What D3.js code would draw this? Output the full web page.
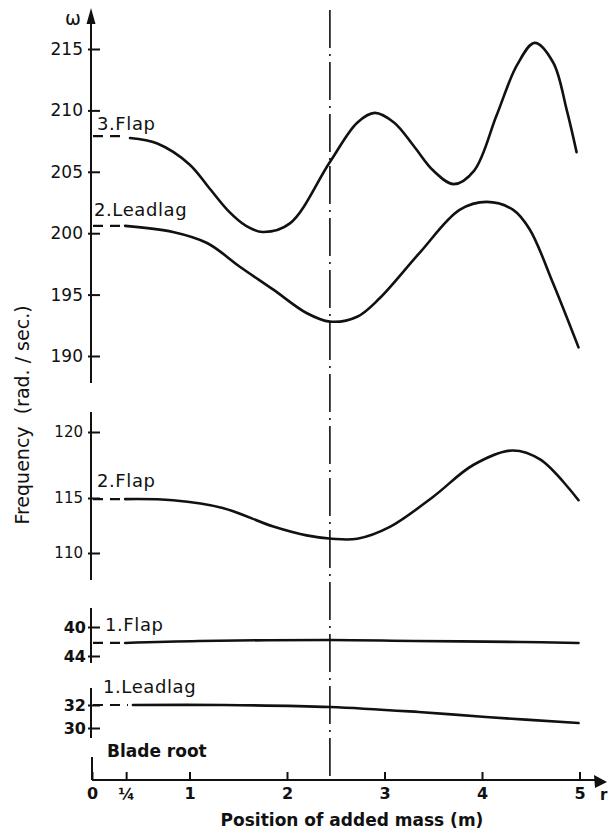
<!DOCTYPE html>
<html>
<head>
<meta charset="utf-8">
<script src="https://cdn.jsdelivr.net/npm/d3@7"></script>
<style>
  body { margin: 0; background: #fff; }
  text { font-family: "DejaVu Sans", sans-serif; fill: #111; }
</style>
</head>
<body>
<div id="chart"></div>
<script>
// ---- data ----
const xTicks = [0, 0.35, 1, 2, 3, 4, 5];
const xTickLabels = ["0", "\u00bc", "1", "2", "3", "4", "5"];
const markPos = 2.44; // dash-dot marker position (m)

const topTicks = [190, 195, 200, 205, 210, 215];
const midTicks = [110, 115, 120];
const flap1Ticks = [40, 44];
const lead1Ticks = [32, 30];

// 3. Flap
const flap3Start = 207.9;
const flap3X = [0.39, 0.67, 1.0, 1.2, 1.4, 1.58, 1.75, 2.03, 2.44, 2.72, 2.9, 3.1, 3.3, 3.5, 3.71, 3.92, 4.15, 4.36, 4.54, 4.73, 4.87, 4.97];
const flap3Y = [207.75, 207.3, 205.6, 203.7, 201.8, 200.6, 200.1, 200.8, 205.8, 209.0, 209.8, 209.0, 207.1, 205.1, 204.0, 205.1, 209.6, 213.7, 215.5, 213.9, 210.0, 206.6];

// 2. Leadlag
const lead2Start = 200.6;
const lead2X = [0.34, 0.83, 1.18, 1.52, 1.86, 2.2, 2.44, 2.72, 2.95, 3.36, 3.77, 4.05, 4.32, 4.49, 4.73, 4.99];
const lead2Y = [200.6, 200.1, 199.2, 197.25, 195.4, 193.5, 192.8, 193.2, 194.7, 198.4, 201.9, 202.55, 201.9, 200.3, 195.9, 190.7];

// 2. Flap
const flap2Start = 114.9;
const flap2X = [0.34, 0.83, 1.34, 1.86, 2.2, 2.46, 2.72, 3.06, 3.5, 3.91, 4.31, 4.6, 4.99];
const flap2Y = [114.9, 114.8, 114.1, 112.4, 111.6, 111.3, 111.3, 112.4, 115.1, 117.5, 118.6, 117.9, 114.8];

// 1. Flap
const flap1Start = 42.2;
const flap1X = [0.34, 1.1, 2.44, 3.3, 4.4, 4.99];
const flap1Y = [42.2, 41.93, 41.79, 41.93, 42.07, 42.2];

// 1. Leadlag
const lead1Start = 32.0;
const lead1X = [0.42, 1.35, 2.44, 3.35, 4.04, 4.99];
const lead1Y = [32.0, 32.0, 31.83, 31.39, 30.96, 30.43];

// ---- layout ----
const width = 610, height = 833;
const axisX = 91;

const svg = d3.select("#chart").append("svg")
  .attr("width", width)
  .attr("height", height);

const x = d3.scaleLinear().domain([0, 5]).range([92, 579.5]);

// one y scale per broken-axis panel
const yTop = d3.scaleLinear().domain([190, 215]).range([356, 49]);
const yMid = d3.scaleLinear().domain([110, 115, 120]).range([553, 498, 432]);
const yFlap1 = d3.scaleLinear().domain([40, 44]).range([627, 656]);
const yLead1 = d3.scaleLinear().domain([30, 32]).range([728, 705]);

const panels = [
  { scale: yTop, ticks: topTicks, size: 17, weight: "normal", pad: 8, y0: 16, y1: 383 },
  { scale: yMid, ticks: midTicks, size: 15, weight: "normal", pad: 8, y0: 412, y1: 580 },
  { scale: yFlap1, ticks: flap1Ticks, size: 16, weight: "bold", pad: 5, y0: 608, y1: 663 },
  { scale: yLead1, ticks: lead1Ticks, size: 16, weight: "bold", pad: 5, y0: 688, y1: 738 }
];

// axis segments + ticks
panels.forEach(p => {
  svg.append("line")
    .attr("x1", axisX).attr("x2", axisX)
    .attr("y1", p.y0).attr("y2", p.y1)
    .attr("stroke", "#111").attr("stroke-width", 2);

  const g = svg.append("g")
    .attr("transform", `translate(${axisX},0)`)
    .call(d3.axisLeft(p.scale).tickValues(p.ticks).tickFormat(d3.format("d"))
      .tickSizeInner(-9).tickSizeOuter(0).tickPadding(p.pad));
  g.select(".domain").remove();
  g.selectAll(".tick line").attr("x1", -3).attr("stroke", "#111").attr("stroke-width", 2);
  g.selectAll(".tick text")
    .attr("font-family", "DejaVu Sans, sans-serif")
    .attr("font-size", p.size)
    .attr("font-weight", p.weight)
    .attr("fill", "#111");
});

// y arrow + omega
svg.append("path")
  .attr("d", `M${axisX},8 L${axisX - 4.5},24 L${axisX + 4.5},24 Z`)
  .attr("fill", "#111");
svg.append("text")
  .attr("x", 73).attr("y", 25)
  .attr("text-anchor", "middle")
  .attr("font-size", 19)
  .text("\u03c9");

// y title
svg.append("text")
  .attr("transform", "translate(29,415) rotate(-90)")
  .attr("text-anchor", "middle")
  .attr("font-size", 19)
  .style("white-space", "pre")
  .text("Frequency  (rad. / sec.)");

// x axis
const xAxisY = 780;
const gx = svg.append("g")
  .attr("transform", `translate(0,${xAxisY})`)
  .call(d3.axisBottom(x).tickValues(xTicks).tickFormat((d, i) => xTickLabels[i])
    .tickSizeInner(-8).tickSizeOuter(0).tickPadding(8));
gx.select(".domain").remove();
gx.selectAll(".tick line").attr("stroke", "#111").attr("stroke-width", 2);
gx.selectAll(".tick text")
  .attr("font-family", "DejaVu Sans, sans-serif")
  .attr("font-size", 16)
  .attr("font-weight", "bold")
  .attr("fill", "#111");

svg.append("line")
  .attr("x1", x(0)).attr("x2", 597)
  .attr("y1", xAxisY).attr("y2", xAxisY)
  .attr("stroke", "#111").attr("stroke-width", 2);
svg.append("line") // blade root bracket
  .attr("x1", x(0)).attr("x2", x(0))
  .attr("y1", 757).attr("y2", xAxisY)
  .attr("stroke", "#111").attr("stroke-width", 2);
svg.append("path")
  .attr("d", `M607,782 L594,775 L595,788 Z`)
  .attr("fill", "#111");
svg.append("text")
  .attr("x", 600).attr("y", 800)
  .attr("font-size", 15)
  .attr("font-weight", "bold")
  .text("r");

svg.append("text")
  .attr("x", 352).attr("y", 826)
  .attr("text-anchor", "middle")
  .attr("font-size", 17)
  .attr("font-weight", "bold")
  .text("Position of added mass (m)");

svg.append("text")
  .attr("x", 107).attr("y", 757)
  .attr("font-size", 17)
  .attr("font-weight", "bold")
  .text("Blade root");

// dash-dot marker line
svg.append("line")
  .attr("x1", x(markPos)).attr("x2", x(markPos))
  .attr("y1", 10).attr("y2", 778)
  .attr("stroke", "#111").attr("stroke-width", 1.6)
  .attr("stroke-dasharray", "38,6,2,6");

// curves
const series = [
  { name: "3.Flap", xs: flap3X, ys: flap3Y, start: flap3Start, scale: yTop, lx: 97, ly: 130 },
  { name: "2.Leadlag", xs: lead2X, ys: lead2Y, start: lead2Start, scale: yTop, lx: 94, ly: 216 },
  { name: "2.Flap", xs: flap2X, ys: flap2Y, start: flap2Start, scale: yMid, lx: 97, ly: 487 },
  { name: "1.Flap", xs: flap1X, ys: flap1Y, start: flap1Start, scale: yFlap1, lx: 105, ly: 631 },
  { name: "1.Leadlag", xs: lead1X, ys: lead1Y, start: lead1Start, scale: yLead1, lx: 103, ly: 693 }
];

series.forEach(s => {
  const pts = s.xs.map((v, i) => [v, s.ys[i]]);
  const line = d3.line()
    .x(d => x(d[0]))
    .y(d => s.scale(d[1]))
    .curve(d3.curveCatmullRom.alpha(0.5));

  svg.append("path")
    .datum(pts)
    .attr("d", line)
    .attr("fill", "none")
    .attr("stroke", "#111")
    .attr("stroke-width", 2.6)
    .attr("stroke-linecap", "round");

  // dashed lead-in from the axis
  svg.append("line")
    .attr("x1", x(0) + 1).attr("x2", x(s.xs[0]) - 5)
    .attr("y1", s.scale(s.start)).attr("y2", s.scale(s.start))
    .attr("stroke", "#111").attr("stroke-width", 2.2)
    .attr("stroke-dasharray", "10,7");

  svg.append("text")
    .attr("x", s.lx).attr("y", s.ly)
    .attr("font-size", 18)
    .attr("letter-spacing", 0.6)
    .text(s.name);
});
</script>
</body>
</html>
